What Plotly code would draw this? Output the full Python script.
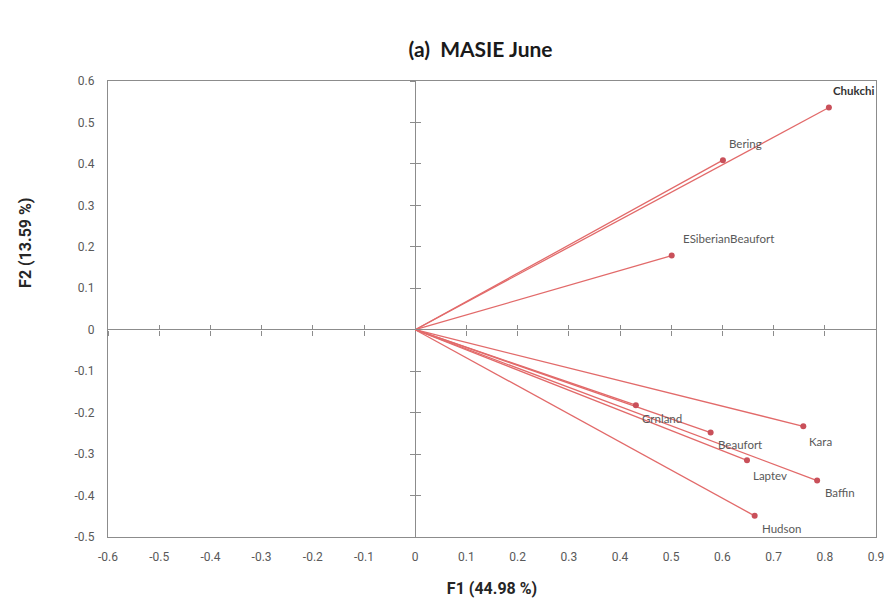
import plotly.graph_objects as go

# ---- data ----
regions = ["Chukchi", "Bering", "ESiberianBeaufort", "Grnland", "Beaufort",
           "Kara", "Laptev", "Baffin", "Hudson"]
f1 = [0.808, 0.601, 0.501, 0.431, 0.577, 0.758, 0.648, 0.785, 0.663]
f2 = [0.536, 0.409, 0.179, -0.182, -0.248, -0.233, -0.315, -0.364, -0.449]

x_ticks = [-0.6, -0.5, -0.4, -0.3, -0.2, -0.1, 0, 0.1, 0.2, 0.3, 0.4, 0.5, 0.6, 0.7, 0.8, 0.9]
y_ticks = [-0.5, -0.4, -0.3, -0.2, -0.1, 0, 0.1, 0.2, 0.3, 0.4, 0.5, 0.6]

title_text = "(a)  MASIE June"
x_title = "F1 (44.98 %)"
y_title = "F2 (13.59 %)"
x_range = [-0.6, 0.9]
y_range = [-0.5, 0.6]

# label offsets in pixels (style only)
label_offsets = {
    "Chukchi": (2, 17),
    "Bering": (4, 17),
    "ESiberianBeaufort": (9, 17),
    "Grnland": (4, -13),
    "Beaufort": (5, -12),
    "Kara": (4, -15),
    "Laptev": (4, -15),
    "Baffin": (6, -12),
    "Hudson": (5, -13),
}

LINE_RED = "#E26A6A"
MARK_RED = "#C9505A"
AXIS_GREY = "#8C8C8C"
TICK_FONT = dict(family="Liberation Sans Narrow, Arial Narrow, Roboto, sans-serif",
                 size=12, color="#595959")


def fmt(v):
    return "0" if abs(v) < 1e-9 else f"{v:g}"


fig = go.Figure()

# vectors from the origin
lx, ly = [], []
for a, b in zip(f1, f2):
    lx += [0, a, None]
    ly += [0, b, None]
fig.add_trace(go.Scatter(x=lx, y=ly, mode="lines",
                         line=dict(color=LINE_RED, width=1.3),
                         hoverinfo="skip", showlegend=False))
fig.add_trace(go.Scatter(x=f1, y=f2, mode="markers", text=regions,
                         marker=dict(color=MARK_RED, size=6),
                         showlegend=False))

# dummy traces so the tick-only axes render
fig.add_trace(go.Scatter(x=[None], y=[None], xaxis="x2", yaxis="y2", showlegend=False))
fig.add_trace(go.Scatter(x=[None], y=[None], xaxis="x3", yaxis="y3", showlegend=False))

annotations = []
for name, a, b in zip(regions, f1, f2):
    dx, dy = label_offsets[name]
    is_top = name == "Chukchi"
    annotations.append(dict(x=a, y=b, xref="x", yref="y",
                            text=("<b>" + name + "</b>") if is_top else name,
                            showarrow=False, xanchor="left", yanchor="middle",
                            xshift=dx, yshift=dy,
                            font=dict(family="Lato, Open Sans, sans-serif",
                                      size=11.5, color="#333333" if is_top else "#595959")))
annotations.append(dict(x=0, y=0.645, xref="paper", yref="paper", text="<b>" + y_title + "</b>",
                        showarrow=False, textangle=-90, xanchor="center", yanchor="middle",
                        xshift=-82,
                        font=dict(family="Roboto, Arial, sans-serif", size=16, color="#262626")))

y0_frac = (0 - y_range[0]) / (y_range[1] - y_range[0])
x0_frac = (0 - x_range[0]) / (x_range[1] - x_range[0])

common_x = dict(range=x_range, tickmode="array", tickvals=x_ticks,
                ticktext=[fmt(v) for v in x_ticks], showgrid=False)
common_y = dict(range=y_range, tickmode="array", tickvals=y_ticks,
                ticktext=[fmt(v) for v in y_ticks], showgrid=False)

fig.update_layout(
    width=895, height=601,
    paper_bgcolor="white", plot_bgcolor="white",
    margin=dict(l=100, r=27, t=73, b=72),
    title=dict(text="<b>" + title_text + "</b>", x=0.528, xanchor="center",
               y=0.93, yanchor="middle",
               font=dict(family="Lato, Open Sans, sans-serif", size=21, color="#1a1a1a")),
    xaxis=dict(**common_x, showline=True, mirror=True, linecolor=AXIS_GREY, linewidth=1.3,
               zeroline=True, zerolinecolor=AXIS_GREY, zerolinewidth=1.3, automargin=False,
               ticks="", tickfont=TICK_FONT, tickangle=0, ticklabelstandoff=8,
               title=dict(text="<b>" + x_title + "</b>", standoff=20,
                          font=dict(family="Roboto, Arial, sans-serif", size=16, color="#262626"))),
    yaxis=dict(**common_y, showline=True, mirror=True, linecolor=AXIS_GREY, linewidth=1.3,
               zeroline=True, zerolinecolor=AXIS_GREY, zerolinewidth=1.3, automargin=False,
               ticks="", tickfont=TICK_FONT, ticklabelstandoff=10),
    xaxis2=dict(**common_x, overlaying="x", anchor="free", position=y0_frac,
                showline=False, zeroline=False, showticklabels=False,
                ticks="outside", ticklen=5, tickcolor=AXIS_GREY, tickwidth=1.2),
    xaxis3=dict(**common_x, overlaying="x", anchor="free", position=y0_frac,
                showline=False, zeroline=False, showticklabels=False,
                ticks="inside", ticklen=5, tickcolor=AXIS_GREY, tickwidth=1.2),
    yaxis2=dict(**common_y, overlaying="y", anchor="free", position=x0_frac,
                showline=False, zeroline=False, showticklabels=False,
                ticks="outside", ticklen=5, tickcolor=AXIS_GREY, tickwidth=1.2),
    yaxis3=dict(**common_y, overlaying="y", anchor="free", position=x0_frac,
                showline=False, zeroline=False, showticklabels=False,
                ticks="inside", ticklen=5, tickcolor=AXIS_GREY, tickwidth=1.2),
    annotations=annotations,
)

fig.write_html("out.html")
